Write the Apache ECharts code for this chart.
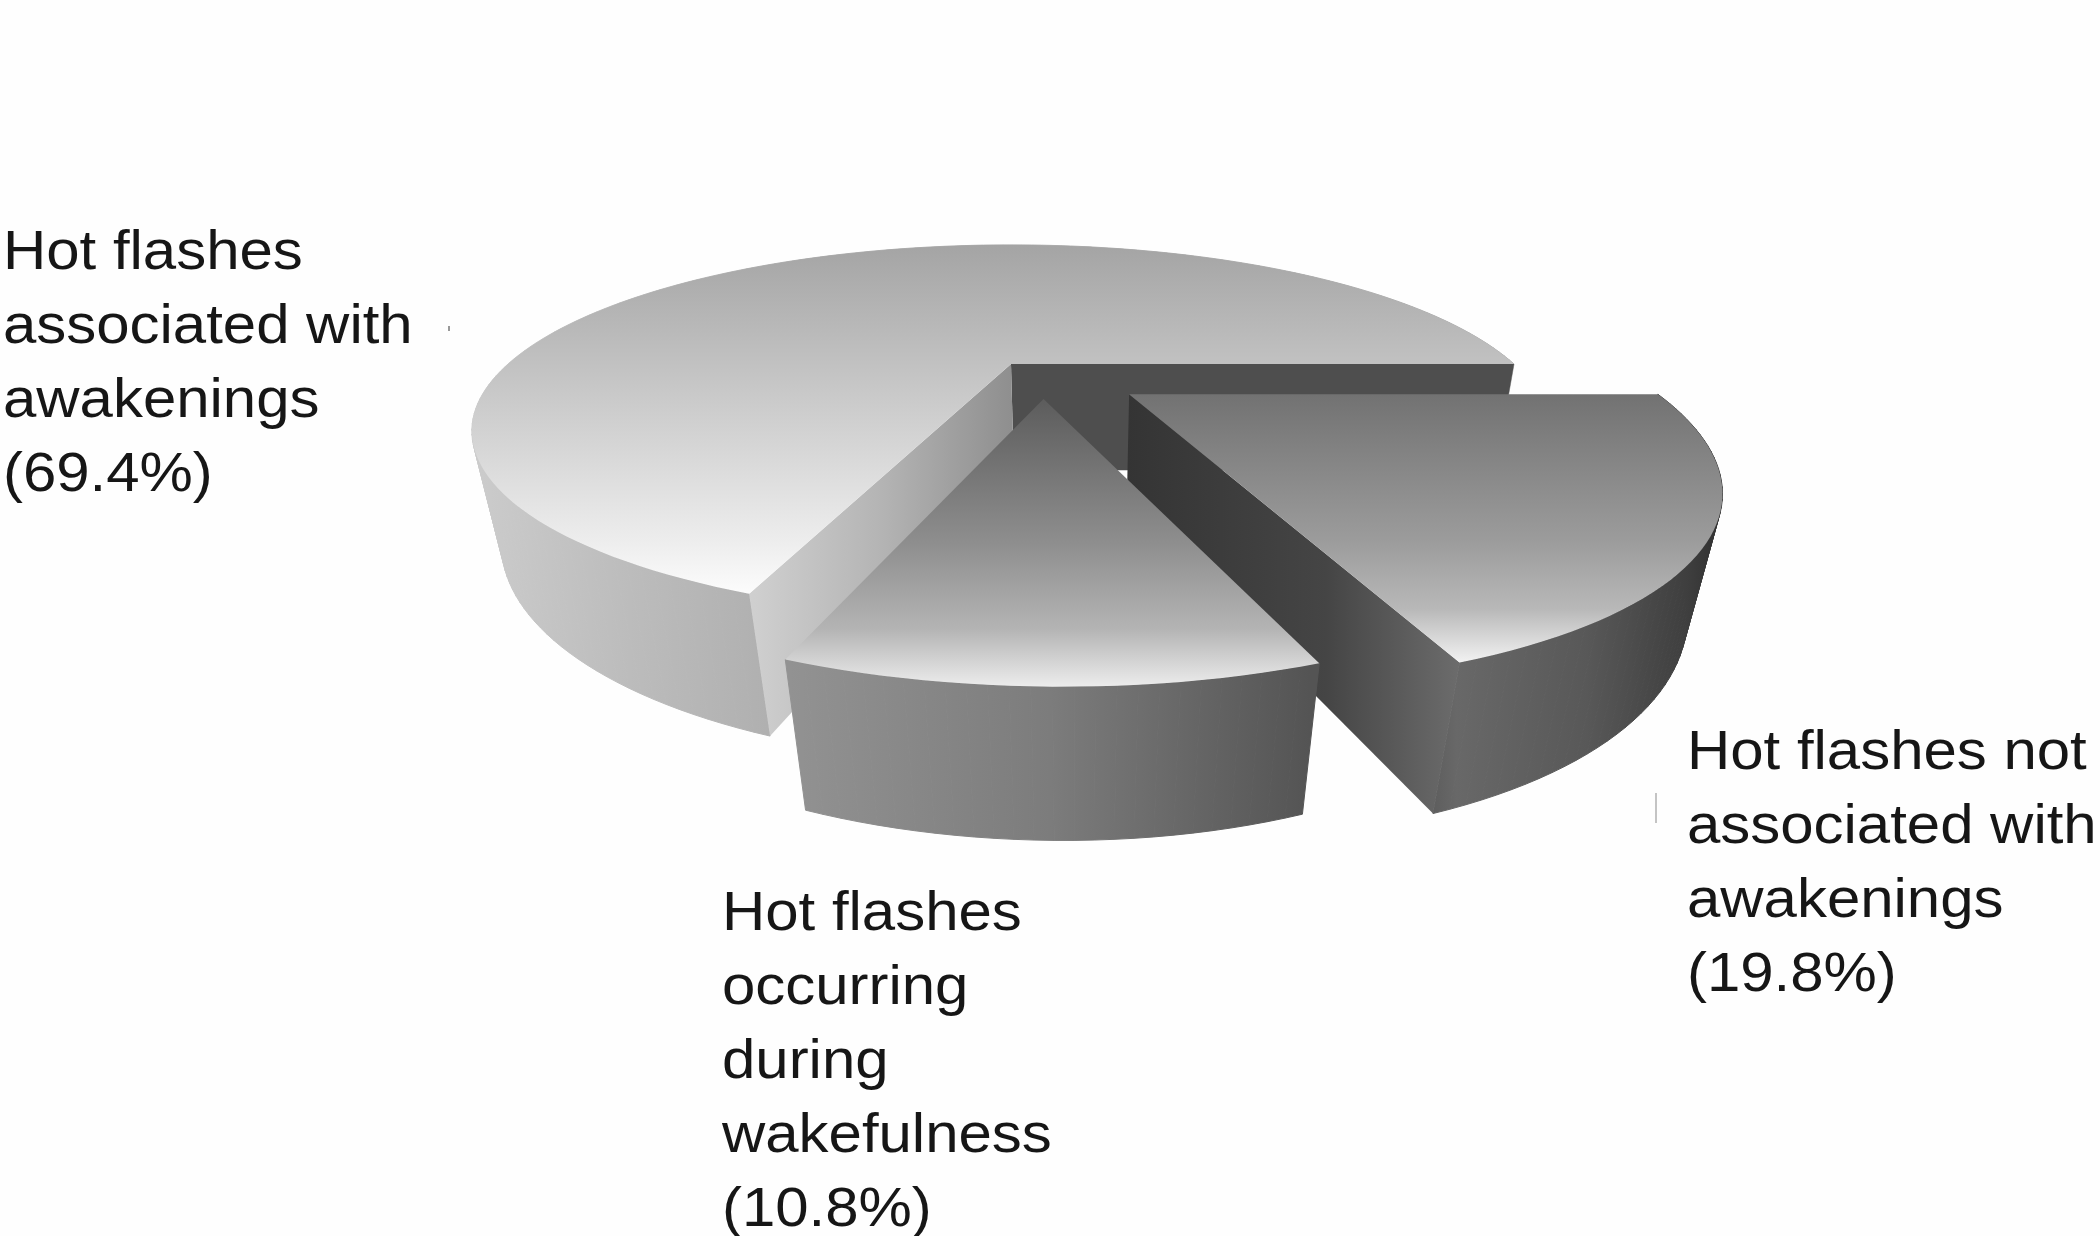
<!DOCTYPE html>
<html><head><meta charset="utf-8">
<style>html,body{margin:0;padding:0;background:#fefefe}#c{width:2100px;height:1236px}</style>
<script src="https://cdn.jsdelivr.net/npm/echarts@6/dist/echarts.min.js"></script>
</head><body><div id="c"></div>
<script>
const categories = ['Hot flashes associated with awakenings', 'Hot flashes occurring during wakefulness', 'Hot flashes not associated with awakenings'];
const values = [69.4, 10.8, 19.8];
const labelLines = [
  ['Hot flashes', 'associated with', 'awakenings', '(69.4%)'],
  ['Hot flashes', 'occurring', 'during', 'wakefulness', '(10.8%)'],
  ['Hot flashes not', 'associated with', 'awakenings', '(19.8%)']
];
const labelPos = [[3, 217], [722, 878], [1687, 717]];
const explode = [[0, 0], [0.06, 0.2], [0.22, 0.175]];
const radiusScale = [1, 0.96, 0.985];
const drawOrder = [0, 2, 1];

const lin = (x, y, x2, y2, stops, global) => ({type: 'linear', x, y, x2, y2, global: !!global,
  colorStops: stops.map(c => ({offset: c[0], color: c[1]}))});
const topFill = [
  lin(0, 0, 0, 1, [[0, '#a4a4a4'], [0.5, '#cfcfcf'], [0.85, '#ededed'], [1, '#fcfcfc']]),
  lin(0, 0, 0, 1, [[0, '#5c5c5c'], [0.5, '#8e8e8e'], [0.8, '#b4b4b4'], [1, '#ececec']]),
  lin(0, 0, 0, 1, [[0, '#727272'], [0.55, '#9c9c9c'], [0.8, '#b8b8b8'], [1, '#f2f2f2']])
];
// outer walls: gradient runs across the page, shared by all the strips of one wall
const arcFill = [
  lin(470, 0, 790, 0, [[0, '#cccccc'], [0.5, '#bcbcbc'], [1, '#aeaeae']], true),
  lin(790, 0, 1310, 0, [[0, '#929292'], [0.5, '#7c7c7c'], [1, '#545454']], true),
  lin(1420, 0, 1725, 0, [[0, '#585858'], [0.12, '#686868'], [0.55, '#585858'], [0.88, '#3e3e3e'], [1, '#2e2e2e']], true)
];
// radial walls that face the viewer: [which edge, fill]
const radialWalls = [
  [['start', '#4e4e4e'], ['end', lin(0, 0, 1, 0, [[0, '#d0d0d0'], [0.5, '#b4b4b4'], [1, '#8e8e8e']])]],
  [],
  [['start', lin(0, 0, 1, 0, [[0, '#343434'], [0.6, '#454545'], [1, '#6c6c6c']])]]
];

// perspective projection of the pie plane
const CX = 1011, CY = 364, R = 503, RY = 162, K = 0.36, G = 0.045, H = 111, C = 3;
function project(X, Y, Z) {
  const w = 1 - K * Y + G * Z;
  return [CX + (R * X + C * Z) / w, CY + (RY * Y + H * Z) / w];
}
const total = values.reduce((a, b) => a + b, 0);
const rad = d => d * Math.PI / 180;

function renderSlice(i, api) {
  let before = 0;
  for (let k = 0; k < i; k++) before += values[k];
  const a0 = before / total * 360, a1 = (before + api.value(0)) / total * 360;
  const [ex, ey] = explode[i], r = radiusScale[i];
  const pt = (a, Z) => project(ex + r * Math.cos(rad(a)), ey - r * Math.sin(rad(a)), Z);
  const apex = Z => project(ex, ey, Z);
  const topArc = [], botArc = [];
  const steps = Math.ceil((a1 - a0) / 1.5);
  for (let s = 0; s <= steps; s++) {
    const a = a0 + (a1 - a0) * s / steps;
    topArc.push(pt(a, 0)); botArc.push(pt(a, 1));
  }
  const children = [];
  for (let s = 0; s < steps; s++) {
    children.push({type: 'polygon',
      shape: {points: [topArc[s], topArc[s + 1], botArc[s + 1], botArc[s]]},
      style: {fill: arcFill[i], stroke: arcFill[i], lineWidth: 1}});
  }
  radialWalls[i].forEach(([edge, fill]) => {
    const a = edge === 'start' ? a0 : a1;
    children.push({type: 'polygon', shape: {points: [apex(0), pt(a, 0), pt(a, 1), apex(1)]}, style: {fill}});
  });
  children.push({type: 'polygon', shape: {points: [apex(0)].concat(topArc)}, style: {fill: topFill[i]}});
  return {type: 'group', children};
}
function renderLabel(params) {
  const i = params.dataIndex;
  return {type: 'text', x: labelPos[i][0], y: labelPos[i][1], scaleX: 1.07,
    style: {text: labelLines[i].join('\n'), fontFamily: 'Liberation Sans', fontSize: 56, lineHeight: 74,
      fill: '#161616', verticalAlign: 'top', align: 'left'}};
}
const chart = echarts.init(document.getElementById('c'), null, {renderer: 'canvas'});
chart.setOption({
  backgroundColor: '#fefefe',
  animation: false,
  graphic: [
    {type: 'rect', shape: {x: 448, y: 326, width: 2, height: 5}, style: {fill: '#999'}},
    {type: 'rect', shape: {x: 1655, y: 793, width: 2, height: 30}, style: {fill: '#c4c4c4'}}
  ],
  series: [
    ...drawOrder.map(idx => ({type: 'custom', coordinateSystem: 'none', silent: true,
      renderItem: (p, api) => renderSlice(idx, api),
      data: [{name: categories[idx], value: [values[idx]]}]})),
    {type: 'custom', coordinateSystem: 'none', renderItem: renderLabel, silent: true,
      data: values.map((v, i) => ({name: categories[i], value: [v]}))}
  ]
});
</script></body></html>
